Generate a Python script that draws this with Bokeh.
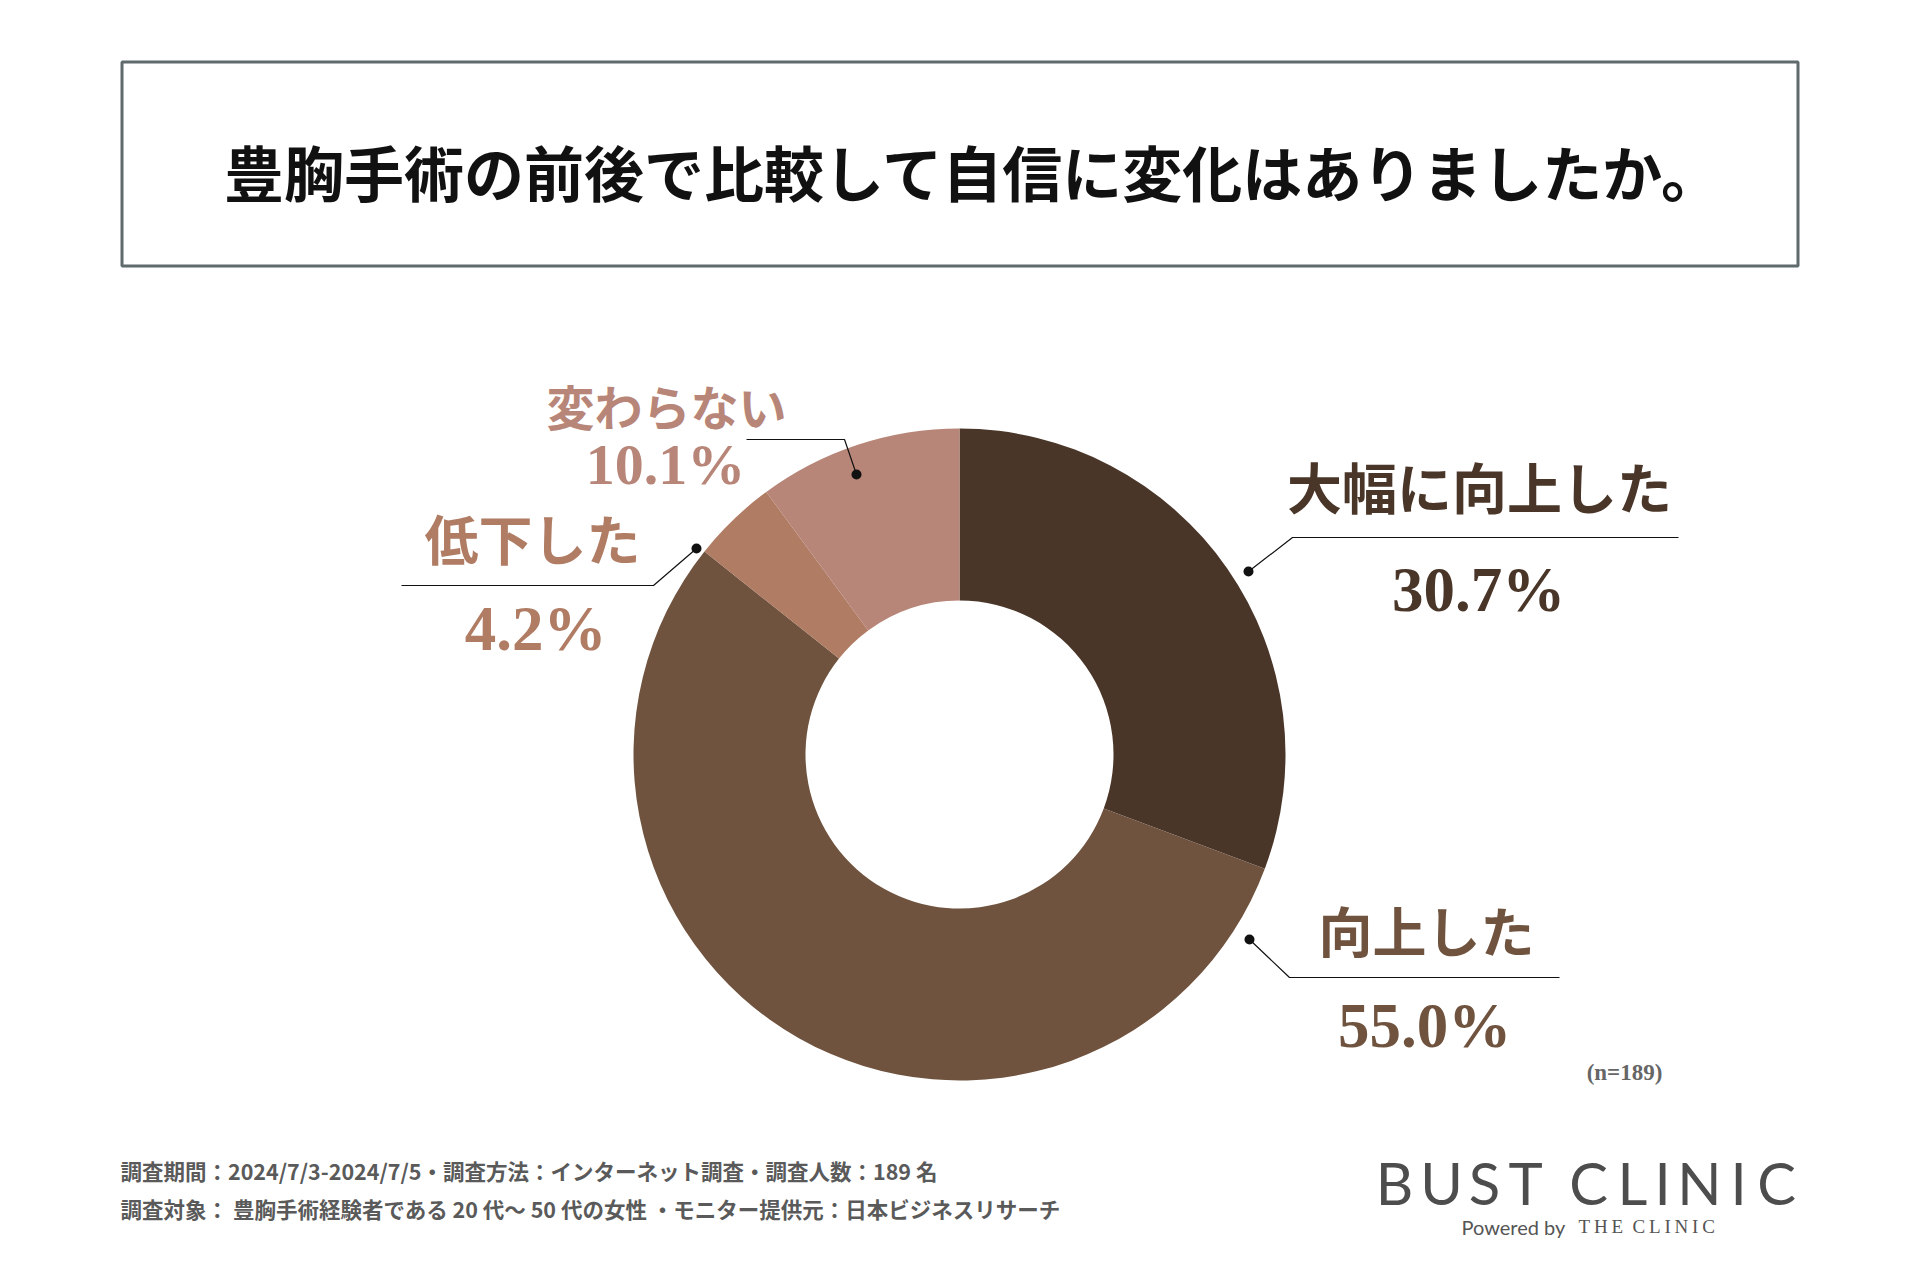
import math
from bokeh.plotting import figure
from bokeh.models import Range1d, ColumnDataSource
from bokeh.core.properties import value
from bokeh.embed import file_html
from bokeh.resources import INLINE

# ---------------- data ----------------
title = "豊胸手術の前後で比較して自信に変化はありましたか。"
categories = ["大幅に向上した", "向上した", "低下した", "変わらない"]
percents = [30.7, 55.0, 4.2, 10.1]
sample_note = "(n=189)"
footer_lines = [
    "調査期間：2024/7/3-2024/7/5・調査方法：インターネット調査・調査人数：189 名",
    "調査対象： 豊胸手術経験者である 20 代～ 50 代の女性 ・モニター提供元：日本ビジネスリサーチ",
]
logo_main = "BUST CLINIC"

# ---------------- styles / layout ----------------
slice_colors = ["#4a3629", "#6f533e", "#b07c64", "#b88678"]
label_colors = ["#4a3629", "#6f533e", "#b07c64", "#b88678"]

W, H = 1904, 1264
def Y(sy):  # screen y -> data y
    return 1280 - sy

cx, cy = 959, Y(754)
r_out, r_in = 326, 154

# label layout (screen coords)
name_pos = [(1479, 484), (1426, 929), (532, 537), (666, 404)]
pct_pos = [(1478, 589), (1424, 1025), (535, 628), (665, 464)]
name_size = ["55px", "54px", "54px", "48px"]
pct_size = ["63px", "63px", "63px", "58px"]
leaders = [
    [(1248, 571), (1292, 537), (1678, 537)],
    [(1249, 939), (1289, 977), (1559, 977)],
    [(696, 548), (653, 585), (401, 585)],
    [(856, 474), (844, 439), (746, 439)],
]

p = figure(width=W, height=H, output_backend="svg", toolbar_location=None,
           x_range=Range1d(0, W), y_range=Range1d(1280 - H, 1280),
           x_axis_location=None, y_axis_location=None, min_border=0)
p.grid.visible = False
p.outline_line_color = None
p.background_fill_color = "white"
p.border_fill_color = "white"

# title box
p.quad(left=[121.5], right=[1797.5], top=[Y(61.5)], bottom=[Y(265.5)],
       fill_color=None, line_color="#5f6a6e", line_width=3)
p.text(x=[973], y=[Y(170)], text=[title], text_font=value("Noto Sans CJK JP"),
       text_font_style="bold", text_font_size="60px", text_color="#111111",
       text_align="center", text_baseline="middle")

# donut
starts, ends = [], []
cum = 0.0
for v in percents:
    starts.append(math.radians(90 - cum * 3.6))
    cum += v
    ends.append(math.radians(90 - cum * 3.6))
src = ColumnDataSource(dict(start=starts, end=ends, color=slice_colors))
p.annular_wedge(x=cx, y=cy, inner_radius=r_in, outer_radius=r_out,
                start_angle="start", end_angle="end",
                direction="clock", fill_color="color", line_color=None, source=src)

# leaders & labels
for i, cat in enumerate(categories):
    pts = leaders[i]
    p.line([q[0] for q in pts], [Y(q[1]) for q in pts], line_color="#111111", line_width=1.2)
    p.scatter([pts[0][0]], [Y(pts[0][1])], size=10, fill_color="#111111", line_color=None)
    p.text(x=[name_pos[i][0]], y=[Y(name_pos[i][1])], text=[cat],
           text_font=value("Noto Sans CJK JP"), text_font_style="bold",
           text_font_size=name_size[i], text_color=label_colors[i],
           text_align="center", text_baseline="middle")
    p.text(x=[pct_pos[i][0]], y=[Y(pct_pos[i][1])], text=[f"{percents[i]:.1f}%"],
           text_font=value("Liberation Serif"), text_font_style="bold",
           text_font_size=pct_size[i], text_color=label_colors[i],
           text_align="center", text_baseline="middle")

p.text(x=[1624], y=[Y(1072)], text=[sample_note], text_font=value("Liberation Serif"),
       text_font_style="bold", text_font_size="23px", text_color="#666666",
       text_align="center", text_baseline="middle")

# footer
for j, line in enumerate(footer_lines):
    p.text(x=[120], y=[Y([1170, 1208][j])], text=[line], text_font=value("Noto Sans CJK JP"),
           text_font_style="bold", text_font_size="21.5px", text_color="#5a5a5a",
           text_align="left", text_baseline="middle")

# logo (letter-spaced)
logo_x = [1394, 1441, 1484, 1525, None, 1588, 1632, 1662, 1699, 1738, 1776]
lx, lt = [], []
for ch, xx in zip(logo_main, logo_x):
    if xx is not None:
        lx.append(xx)
        lt.append(ch)
p.text(x=lx, y=[Y(1182)] * len(lx), text=lt, text_font=value("Lato"),
       text_font_size="58px", text_color="#4d4d4d",
       text_align="center", text_baseline="middle")
p.text(x=[1461], y=[Y(1226)], text=["Powered by"], text_font=value("Lato"),
       text_font_size="20px", text_color="#555555",
       text_align="left", text_baseline="middle")
p.text(x=[1578], y=[Y(1226)], text=["T\u2009H\u2009E\u2002C\u2009L\u2009I\u2009N\u2009I\u2009C"],
       text_font=value("Liberation Serif"), text_font_size="19px", text_color="#555555",
       text_align="left", text_baseline="middle")

open("out.html", "w").write(file_html(p, INLINE))
